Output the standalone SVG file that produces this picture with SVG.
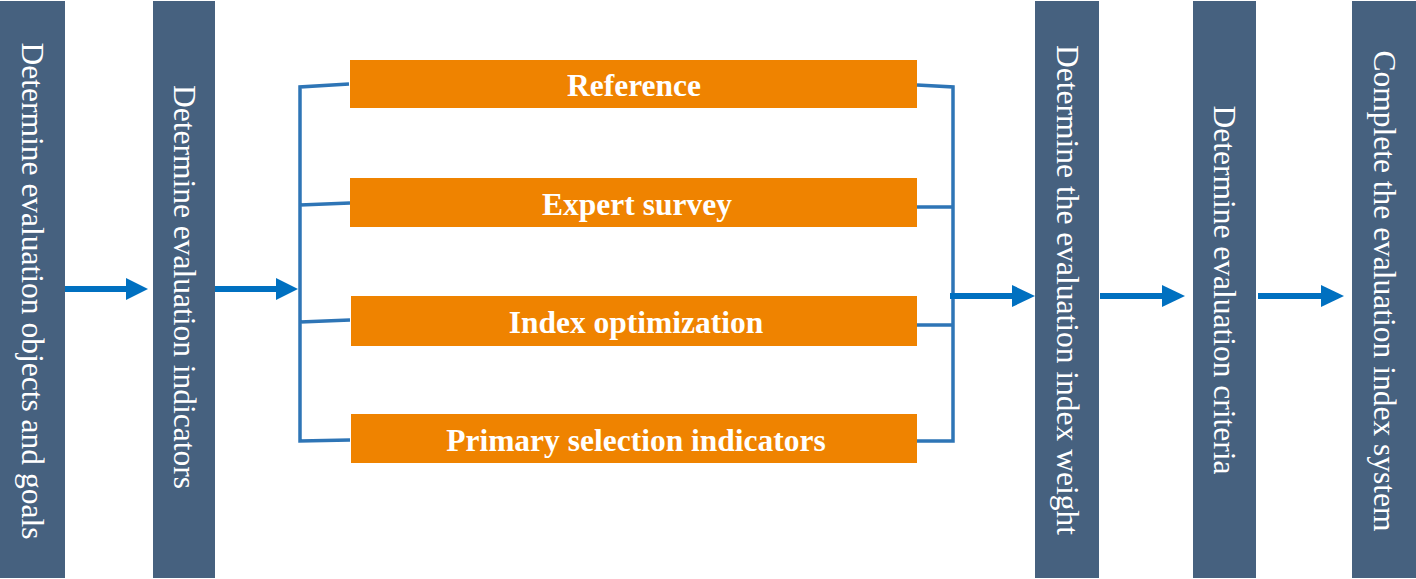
<svg xmlns="http://www.w3.org/2000/svg" width="1416" height="579" viewBox="0 0 1416 579">
<style>
.col{fill:#46617F;}
.ct{font-family:"Liberation Serif","Times New Roman",serif;font-size:31.5px;fill:#ffffff;text-anchor:middle;}
.ob{fill:#EF8300;}
.ot{font-family:"Liberation Serif","Times New Roman",serif;font-size:31.5px;font-weight:bold;fill:#ffffff;text-anchor:middle;}
.br{fill:none;stroke:#2E75B6;stroke-width:3.5;}
.ar{stroke:#0070C0;stroke-width:6;fill:none;}
.ah{fill:#0070C0;}
</style>
<g id="n1"><rect class="col" x="0" y="1" width="65" height="577"/><text class="ct" transform="translate(22,291) rotate(90)">Determine evaluation objects and goals</text></g>
<g id="n2"><rect class="col" x="153" y="1" width="62" height="577"/><text class="ct" transform="translate(174,287) rotate(90)">Determine evaluation indicators</text></g>
<g id="n3"><rect class="col" x="1035" y="1" width="64" height="577"/><text class="ct" transform="translate(1057,290) rotate(90)">Determine the evaluation index weight</text></g>
<g id="n4"><rect class="col" x="1193" y="1" width="63" height="577"/><text class="ct" transform="translate(1214,290) rotate(90)">Determine evaluation criteria</text></g>
<g id="n5"><rect class="col" x="1352" y="1" width="64" height="577"/><text class="ct" transform="translate(1374,291) rotate(90)">Complete the evaluation index system</text></g>
<g id="m1"><rect class="ob" x="350" y="60" width="567" height="48"/><text class="ot" x="634" y="96">Reference</text></g>
<g id="m2"><rect class="ob" x="350" y="178" width="567" height="49"/><text class="ot" x="637" y="215">Expert survey</text></g>
<g id="m3"><rect class="ob" x="351" y="296" width="566" height="50"/><text class="ot" x="636" y="333">Index optimization</text></g>
<g id="m4"><rect class="ob" x="351" y="414" width="566" height="49"/><text class="ot" x="636" y="451">Primary selection indicators</text></g>
<g id="connectors">
<path class="br" d="M349,84 L300,87 L300,441 L350,440 M300,205 L350,203 M300,322 L350,320"/>
<path class="br" d="M917,85 L953,87 L953,441 L917,441 M917,207 L953,207 M917,325 L953,325"/>
<line class="ar" x1="65" y1="289" x2="128" y2="289"/><polygon class="ah" points="126,278 148,289 126,300"/>
<line class="ar" x1="215" y1="289" x2="278" y2="289"/><polygon class="ah" points="276,278 298,289 276,300"/>
<line class="ar" x1="950" y1="296" x2="1014" y2="296"/><polygon class="ah" points="1012,285 1035,296 1012,307"/>
<line class="ar" x1="1100" y1="296" x2="1164" y2="296"/><polygon class="ah" points="1162,285 1185,296 1162,307"/>
<line class="ar" x1="1258" y1="296" x2="1323" y2="296"/><polygon class="ah" points="1321,285 1344,296 1321,307"/>
</g>
</svg>
